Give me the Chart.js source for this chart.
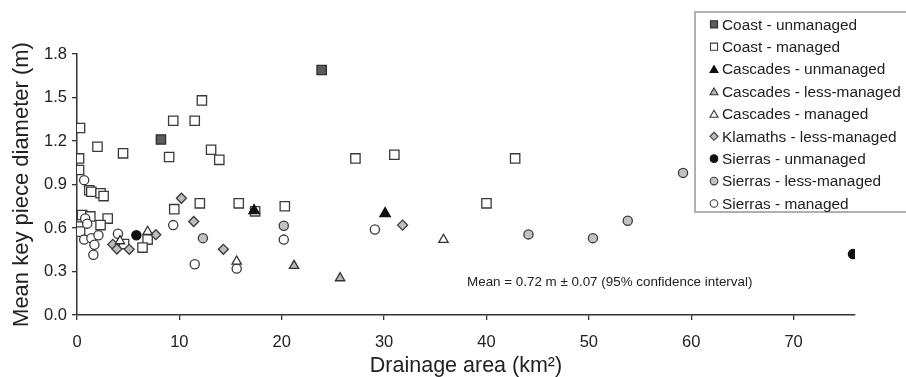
<!DOCTYPE html>
<html><head><meta charset="utf-8">
<script src="https://cdn.jsdelivr.net/npm/chart.js@4/dist/chart.umd.min.js"></script>
<style>html,body{margin:0;padding:0;background:#fff}#wrap{width:906px;height:377px;position:relative}</style>
</head><body><div id="wrap"><canvas id="c"></canvas></div>
<script>
// ---- data (drainage area km², mean key piece diameter m) ----
const coastUnmanaged = [[8.2,1.21],[23.9,1.69]];
const coastManaged = [[0.3,1.29],[2.0,1.16],[4.5,1.115],[0.2,1.08],[0.2,1.00],[1.2,0.86],[1.4,0.85],[2.3,0.84],[2.6,0.82],
  [9.0,1.09],[9.4,1.34],[11.5,1.34],[12.2,1.48],[13.1,1.14],[13.9,1.07],[12.0,0.77],[9.5,0.73],[15.8,0.77],[17.4,0.715],
  [20.3,0.75],[27.2,1.08],[31.0,1.105],[40.0,0.77],[42.8,1.08],[0.5,0.69],[1.3,0.68],[3.0,0.665],[2.3,0.62],[0.2,0.61],
  [0.3,0.575],[4.6,0.49],[6.9,0.52],[6.4,0.465]];
const cascadesUnmanaged = [[17.3,0.72],[30.1,0.70]];
const cascadesLessManaged = [[21.2,0.34],[25.7,0.255]];
const cascadesManaged = [[35.8,0.52],[15.6,0.37],[6.9,0.575],[4.2,0.51]];
const klamathsLessManaged = [[10.2,0.805],[11.4,0.645],[14.3,0.453],[31.8,0.62],[7.7,0.554],[3.5,0.487],[3.9,0.455],[5.1,0.453]];
const sierrasUnmanaged = [[5.8,0.55],[75.8,0.42]];
const sierrasLessManaged = [[12.3,0.53],[20.2,0.615],[44.1,0.556],[50.4,0.53],[53.8,0.65],[59.2,0.98]];
const sierrasManaged = [[0.7,0.93],[0.8,0.665],[1.0,0.63],[0.7,0.52],[1.4,0.53],[2.1,0.55],[1.7,0.485],[1.6,0.415],
  [4.0,0.56],[9.4,0.62],[11.5,0.35],[15.6,0.32],[20.2,0.52],[29.1,0.59]];

const seriesLabels = ['Coast - unmanaged','Coast - managed','Cascades - unmanaged','Cascades - less-managed',
  'Cascades - managed','Klamaths - less-managed','Sierras - unmanaged','Sierras - less-managed','Sierras - managed'];
const seriesData = [coastUnmanaged, coastManaged, cascadesUnmanaged, cascadesLessManaged, cascadesManaged,
  klamathsLessManaged, sierrasUnmanaged, sierrasLessManaged, sierrasManaged];
const xTickStep = 10, xMax = 76, yTickStep = 0.3, yMax = 1.8;
const meanNote = 'Mean = 0.72 m \u00b1 0.07 (95% confidence interval)';
const meanNotePos = [38.1, 0.228];

// ---- styles ----
const styles = [
  {pointStyle:'rect', bg:'#5c5c5c', bd:'#2e2e2e', r:6.6, lr:5.0, order:5},
  {pointStyle:'rect', bg:'#ffffff', bd:'#3a3a3a', r:6.6, lr:5.0, order:9},
  {pointStyle:'triangle', bg:'#111111', bd:'#111111', r:6.0, lr:4.6, order:1},
  {pointStyle:'triangle', bg:'#b8b8b8', bd:'#333333', r:5.4, lr:4.6, order:2},
  {pointStyle:'triangle', bg:'#ffffff', bd:'#333333', r:5.4, lr:4.6, order:3},
  {pointStyle:'rectRot', bg:'#bdbdbd', bd:'#3a3a3a', r:5.0, lr:4.0, order:4},
  {pointStyle:'circle', bg:'#111111', bd:'#111111', r:4.6, lr:3.8, order:2},
  {pointStyle:'circle', bg:'#c2c2c2', bd:'#3a3a3a', r:4.6, lr:3.8, order:6},
  {pointStyle:'circle', bg:'#ffffff', bd:'#3a3a3a', r:4.6, lr:3.8, order:7}
];

const datasets = seriesData.map((d,i)=>({
  label: seriesLabels[i],
  data: d.map(p=>({x:p[0], y:p[1]})),
  pointStyle: styles[i].pointStyle,
  backgroundColor: styles[i].bg,
  borderColor: styles[i].bd,
  pointRadius: styles[i].r,
  pointHoverRadius: styles[i].r,
  borderWidth: 1.3,
  order: styles[i].order
}));

const FONT = '"Liberation Sans", Arial, Helvetica, sans-serif';

const customLegend = {
  id: 'customLegend',
  afterDraw(chart) {
    const ctx = chart.ctx;
    ctx.save();
    ctx.strokeStyle = '#b0b0b0';
    ctx.lineWidth = 2;
    ctx.strokeRect(695, 12, 225, 200);
    ctx.font = '15.4px ' + FONT;
    ctx.textBaseline = 'middle';
    ctx.textAlign = 'left';
    seriesLabels.forEach((lab, i) => {
      const y = 24.3 + 22.4 * i;
      const s = styles[i];
      ctx.fillStyle = s.bg;
      ctx.strokeStyle = s.bd;
      ctx.lineWidth = 1.1;
      Chart.helpers.drawPoint(ctx, {pointStyle: s.pointStyle, radius: s.lr, rotation: 0, borderWidth: 1.1}, 714, y + (s.pointStyle==='triangle'?1:0));
      ctx.fillStyle = '#222';
      ctx.fillText(lab, 722, y + 1);
    });
    const xs = chart.scales.x, ys = chart.scales.y;
    ctx.font = '13.4px ' + FONT;
    ctx.fillStyle = '#222';
    ctx.fillText(meanNote, xs.getPixelForValue(meanNotePos[0]), ys.getPixelForValue(meanNotePos[1]));
    ctx.restore();
  }
};

new Chart(document.getElementById('c'), {
  type: 'scatter',
  data: { datasets },
  options: {
    responsive: true,
    maintainAspectRatio: false,
    animation: false,
    layout: { padding: { left: 0, right: 51, top: 54, bottom: 0 } },
    plugins: { legend: { display: false }, tooltip: { enabled: false } },
    scales: {
      x: {
        type: 'linear', min: 0, max: xMax,
        afterFit: s => { s.height = 62; },
        ticks: { stepSize: xTickStep, includeBounds: false, color: '#222', padding: 13,
                 font: { family: FONT, size: 16.5 } },
        grid: { display: true, drawOnChartArea: false, drawTicks: true, tickLength: 5, color: '#333', lineWidth: 1.3 },
        border: { display: true, color: '#333', width: 1.5 },
        title: { display: true, text: 'Drainage area (km\u00b2)', color: '#222',
                 font: { family: FONT, size: 21.5 }, padding: { top: 0, bottom: -2.4 } }
      },
      y: {
        type: 'linear', min: 0, max: yMax,
        afterFit: s => { s.width = 77; },
        ticks: { stepSize: yTickStep, includeBounds: false, color: '#222', padding: 5,
                 font: { family: FONT, size: 16.5 }, callback: v => Number(v).toFixed(1) },
        grid: { display: true, drawOnChartArea: false, drawTicks: true, tickLength: 5, color: '#333', lineWidth: 1.3 },
        border: { display: true, color: '#333', width: 1.5 },
        title: { display: true, text: 'Mean key piece diameter (m)', color: '#222',
                 font: { family: FONT, size: 22 }, padding: { top: 9, bottom: 0 } }
      }
    }
  },
  plugins: [customLegend]
});
</script>
</body></html>
